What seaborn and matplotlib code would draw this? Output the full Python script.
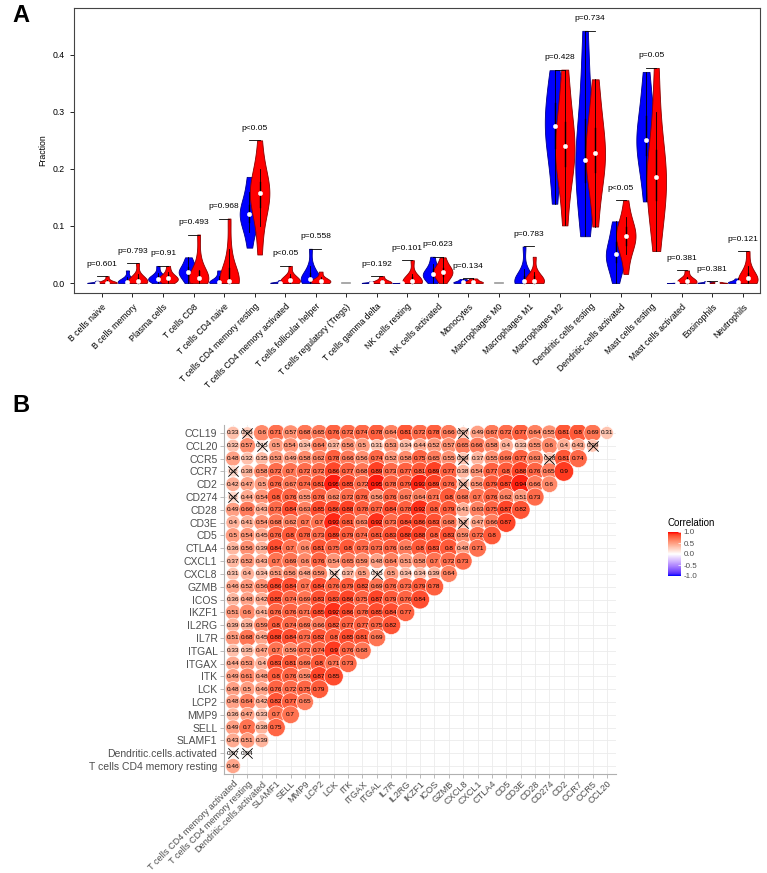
import numpy as np
import pandas as pd
import matplotlib
matplotlib.use("Agg")
import matplotlib.pyplot as plt
import seaborn as sns
from matplotlib.colors import LinearSegmentedColormap, Normalize
from matplotlib.cm import ScalarMappable

# ---------------- panel A data ----------------
cells = ["B cells naive", "B cells memory", "Plasma cells", "T cells CD8", "T cells CD4 naive",
         "T cells CD4 memory resting", "T cells CD4 memory activated", "T cells follicular helper",
         "T cells regulatory (Tregs)", "T cells gamma delta", "NK cells resting", "NK cells activated",
         "Monocytes", "Macrophages M0", "Macrophages M1", "Macrophages M2", "Dendritic cells resting",
         "Dendritic cells activated", "Mast cells resting", "Mast cells activated", "Eosinophils",
         "Neutrophils"]

normal_vals = [
    [0, 0, 0, 0, 0, 0, 0.001, 0.002, 0.004],
    [0, 0, 0, 0.001, 0.002, 0.004, 0.006, 0.01, 0.022],
    [0, 0.003, 0.005, 0.006, 0.007, 0.008, 0.01, 0.012, 0.018, 0.03],
    [0, 0.008, 0.013, 0.017, 0.019, 0.021, 0.024, 0.03, 0.037, 0.045],
    [0, 0, 0, 0.001, 0.002, 0.003, 0.006, 0.012, 0.022],
    [0.062, 0.09, 0.105, 0.115, 0.12, 0.122, 0.13, 0.14, 0.16, 0.186],
    [0, 0, 0, 0, 0, 0.001, 0.002, 0.005],
    [0, 0.002, 0.004, 0.005, 0.006, 0.008, 0.012, 0.02, 0.03, 0.06],
    [0, 0, 0, 0, 0, 0],
    [0, 0, 0, 0, 0.001, 0.003],
    [0, 0, 0, 0, 0.0005],
    [0, 0.006, 0.01, 0.013, 0.015, 0.016, 0.02, 0.025, 0.033, 0.046],
    [0, 0, 0.001, 0.002, 0.004, 0.007],
    [0, 0, 0, 0, 0, 0],
    [0, 0, 0, 0.001, 0.003, 0.006, 0.012, 0.025, 0.064],
    [0.139, 0.2, 0.23, 0.255, 0.27, 0.28, 0.3, 0.32, 0.35, 0.373],
    [0.082, 0.12, 0.17, 0.2, 0.21, 0.22, 0.25, 0.3, 0.36, 0.442],
    [0, 0.02, 0.035, 0.042, 0.048, 0.052, 0.06, 0.075, 0.09, 0.108],
    [0.143, 0.19, 0.22, 0.24, 0.248, 0.252, 0.27, 0.3, 0.33, 0.37],
    [0, 0, 0, 0.0005],
    [0, 0, 0, 0.001, 0.003],
    [0, 0, 0.001, 0.002, 0.004, 0.008],
]
tumor_vals = [
    [0, 0, 0, 0, 0, 0.001, 0.003, 0.006, 0.012],
    [0, 0, 0, 0.002, 0.004, 0.006, 0.009, 0.015, 0.035],
    [0, 0.003, 0.005, 0.006, 0.007, 0.009, 0.011, 0.014, 0.02, 0.03],
    [0, 0.002, 0.004, 0.007, 0.009, 0.01, 0.015, 0.022, 0.045, 0.085],
    [0, 0, 0, 0.001, 0.003, 0.005, 0.012, 0.03, 0.06, 0.113],
    [0.05, 0.1, 0.13, 0.145, 0.155, 0.16, 0.165, 0.18, 0.2, 0.25],
    [0, 0, 0.001, 0.003, 0.005, 0.007, 0.01, 0.015, 0.03],
    [0, 0, 0.002, 0.003, 0.004, 0.006, 0.01, 0.02],
    [0, 0, 0, 0, 0, 0],
    [0, 0, 0, 0.001, 0.003, 0.006, 0.012],
    [0, 0, 0, 0.002, 0.004, 0.008, 0.015, 0.04],
    [0, 0.008, 0.012, 0.016, 0.019, 0.021, 0.024, 0.028, 0.035, 0.045],
    [0, 0, 0.001, 0.002, 0.005, 0.008],
    [0, 0, 0, 0, 0, 0],
    [0, 0, 0, 0.002, 0.004, 0.007, 0.012, 0.02, 0.046],
    [0.101, 0.17, 0.2, 0.22, 0.235, 0.245, 0.26, 0.29, 0.33, 0.374],
    [0.099, 0.16, 0.19, 0.21, 0.225, 0.23, 0.25, 0.28, 0.31, 0.357],
    [0.016, 0.05, 0.065, 0.075, 0.08, 0.085, 0.09, 0.1, 0.115, 0.145],
    [0.056, 0.11, 0.14, 0.165, 0.18, 0.19, 0.21, 0.24, 0.3, 0.377],
    [0, 0, 0.001, 0.003, 0.006, 0.01, 0.022],
    [0, 0, 0, 0.001, 0.002],
    [0, 0, 0.002, 0.005, 0.008, 0.012, 0.018, 0.03, 0.056],
]
pvals = ["p=0.601", "p=0.793", "p=0.91", "p=0.493", "p=0.968", "p<0.05", "p<0.05", "p=0.558", "",
         "p=0.192", "p=0.101", "p=0.623", "p=0.134", "", "p=0.783", "p=0.428", "p=0.734", "p<0.05",
         "p=0.05", "p=0.381", "p=0.381", "p=0.121"]

# ---------------- panel B data ----------------
genes = ["T cells CD4 memory activated", "T cells CD4 memory resting", "Dendritic.cells.activated",
         "SLAMF1", "SELL", "MMP9", "LCP2", "LCK", "ITK", "ITGAX", "ITGAL", "IL7R", "IL2RG", "IKZF1",
         "ICOS", "GZMB", "CXCL8", "CXCL1", "CTLA4", "CD5", "CD3E", "CD28", "CD274", "CD2", "CCR7",
         "CCR5", "CCL20", "CCL19"]

CCL19 = [0.33, 0.26, 0.6, 0.71, 0.57, 0.68, 0.65, 0.76, 0.72, 0.74, 0.78, 0.64, 0.81, 0.72, 0.78, 0.66,
         0.27, 0.49, 0.67, 0.72, 0.77, 0.64, 0.55, 0.81, 0.8, 0.69, 0.31]
CCL20 = [0.32, 0.57, 0.15, 0.5, 0.54, 0.34, 0.64, 0.37, 0.56, 0.5, 0.31, 0.53, 0.34, 0.44, 0.52, 0.57,
         0.65, 0.66, 0.58, 0.4, 0.33, 0.55, 0.6, 0.4, 0.43, 0.29]
CCR5 = [0.48, 0.32, 0.35, 0.53, 0.49, 0.58, 0.62, 0.78, 0.66, 0.56, 0.74, 0.52, 0.58, 0.75, 0.65, 0.55,
        0.29, 0.37, 0.55, 0.69, 0.77, 0.63, 0.28, 0.81, 0.74]
CCR7 = [0.2, 0.38, 0.58, 0.72, 0.7, 0.72, 0.72, 0.86, 0.77, 0.68, 0.89, 0.73, 0.77, 0.81, 0.89, 0.77,
        0.38, 0.54, 0.77, 0.8, 0.88, 0.76, 0.65, 0.9]
CD2 = [0.42, 0.47, 0.5, 0.76, 0.67, 0.74, 0.81, 0.95, 0.85, 0.72, 0.95, 0.78, 0.79, 0.93, 0.89, 0.76,
       0.3, 0.56, 0.79, 0.87, 0.94, 0.66, 0.6]
CD274 = [0.2, 0.44, 0.54, 0.8, 0.76, 0.55, 0.76, 0.62, 0.72, 0.76, 0.56, 0.76, 0.67, 0.64, 0.71, 0.8,
         0.68, 0.7, 0.76, 0.62, 0.51, 0.73]
CD28 = [0.49, 0.66, 0.43, 0.73, 0.84, 0.63, 0.85, 0.86, 0.88, 0.78, 0.77, 0.84, 0.78, 0.92, 0.8, 0.79,
        0.41, 0.63, 0.75, 0.87, 0.82]
CD3E = [0.4, 0.41, 0.54, 0.68, 0.62, 0.7, 0.7, 0.93, 0.81, 0.63, 0.92, 0.73, 0.84, 0.86, 0.83, 0.68,
        0.3, 0.47, 0.66, 0.87]
CD5 = [0.5, 0.54, 0.45, 0.76, 0.8, 0.78, 0.73, 0.89, 0.79, 0.74, 0.81, 0.83, 0.88, 0.88, 0.8, 0.83,
       0.59, 0.72, 0.8]
CTLA4 = [0.36, 0.56, 0.39, 0.84, 0.7, 0.6, 0.81, 0.75, 0.8, 0.73, 0.73, 0.76, 0.65, 0.8, 0.83, 0.8,
         0.48, 0.71]
CXCL1 = [0.37, 0.52, 0.43, 0.7, 0.69, 0.6, 0.76, 0.54, 0.65, 0.59, 0.48, 0.64, 0.51, 0.58, 0.7, 0.72,
         0.73]
CXCL8 = [0.31, 0.4, 0.34, 0.51, 0.56, 0.48, 0.59, 0.2, 0.37, 0.5, 0.15, 0.5, 0.34, 0.34, 0.39, 0.64]
GZMB = [0.46, 0.52, 0.56, 0.86, 0.84, 0.7, 0.84, 0.76, 0.79, 0.82, 0.69, 0.76, 0.73, 0.79, 0.78]
ICOS = [0.36, 0.48, 0.42, 0.85, 0.74, 0.69, 0.83, 0.83, 0.86, 0.75, 0.87, 0.79, 0.76, 0.84]
IKZF1 = [0.51, 0.6, 0.41, 0.76, 0.76, 0.71, 0.85, 0.92, 0.86, 0.78, 0.85, 0.84, 0.77]
IL2RG = [0.39, 0.39, 0.59, 0.8, 0.74, 0.69, 0.66, 0.82, 0.77, 0.77, 0.75, 0.82]
IL7R = [0.51, 0.68, 0.45, 0.88, 0.84, 0.73, 0.82, 0.8, 0.85, 0.81, 0.69]
ITGAL = [0.33, 0.35, 0.47, 0.7, 0.59, 0.72, 0.74, 0.9, 0.76, 0.68]
ITGAX = [0.44, 0.53, 0.4, 0.83, 0.81, 0.69, 0.8, 0.71, 0.73]
ITK = [0.49, 0.61, 0.48, 0.8, 0.76, 0.59, 0.87, 0.85]
LCK = [0.48, 0.5, 0.46, 0.76, 0.72, 0.75, 0.79]
LCP2 = [0.48, 0.64, 0.42, 0.82, 0.77, 0.65]
MMP9 = [0.36, 0.47, 0.33, 0.7, 0.7]
SELL = [0.49, 0.7, 0.38, 0.75]
SLAMF1 = [0.43, 0.51, 0.39]
DC_activated = [0.07, 0.04]
CD4_mem_resting = [0.46]

# non-significant cells (row gene, column gene), drawn with a cross
insig = [("CCL19", "T cells CD4 memory resting"), ("CCL19", "CXCL8"),
         ("CCL20", "Dendritic.cells.activated"), ("CCL20", "CCR5"),
         ("CCR5", "CXCL8"), ("CCR5", "CD274"),
         ("CCR7", "T cells CD4 memory activated"), ("CD2", "CXCL8"),
         ("CD274", "T cells CD4 memory activated"), ("CD3E", "CXCL8"),
         ("CXCL8", "LCK"), ("CXCL8", "ITGAL"),
         ("Dendritic.cells.activated", "T cells CD4 memory activated"),
         ("Dendritic.cells.activated", "T cells CD4 memory resting")]

row_values = [CCL19, CCL20, CCR5, CCR7, CD2, CD274, CD28, CD3E, CD5, CTLA4, CXCL1, CXCL8, GZMB, ICOS,
              IKZF1, IL2RG, IL7R, ITGAL, ITGAX, ITK, LCK, LCP2, MMP9, SELL, SLAMF1, DC_activated,
              CD4_mem_resting]

# ---------------- style ----------------
plt.rcParams['font.family'] = ['Liberation Sans', 'DejaVu Sans']

W, H = 767, 873
fig = plt.figure(figsize=(W / 100, H / 100), dpi=100)


def px_axes(l, t, r, b):
    return fig.add_axes([l / W, 1 - b / H, (r - l) / W, (b - t) / H])


# ---------------- panel A ----------------
axA = px_axes(74, 8, 760, 293)

rows = []
for i, c in enumerate(cells):
    if max(normal_vals[i] + tumor_vals[i]) == 0:
        continue
    for v in normal_vals[i]:
        rows.append({"pos": 3 * i + 1, "group": "Normal", "value": v})
    for v in tumor_vals[i]:
        rows.append({"pos": 3 * i + 2, "group": "Tumor", "value": v})
dfA = pd.DataFrame(rows)

inner = dict(box_width=1.0, whis_width=0.6, marker="o", markersize=3.0,
             markeredgewidth=0.4, markeredgecolor="white", markerfacecolor="white")
for grp, fc, ec in [("Normal", "#0000FF", "#00008B"), ("Tumor", "#FF0000", "#8B0000")]:
    n0 = len(axA.collections)
    sns.violinplot(data=dfA[dfA.group == grp], x="pos", y="value", native_scale=True,
                   color=fc, saturation=1, density_norm="width", cut=0, width=0.64,
                   inner="box", inner_kws=inner, linewidth=0.6, linecolor="black", ax=axA)
    for coll in axA.collections[n0:]:
        coll.set_edgecolor(ec)
        coll.set_facecolor(fc)

# all-zero cell types: a flat grey mark at the category centre
for i, c in enumerate(cells):
    vals = normal_vals[i] + tumor_vals[i]
    if max(vals) == 0:
        axA.plot([3 * i + 1.1, 3 * i + 1.9], [min(vals), max(vals)], color="#9A9A9A", lw=1.2)

for i, c in enumerate(cells):
    if pvals[i] == "":
        continue
    ymax = max(normal_vals[i] + tumor_vals[i])
    axA.plot([3 * i + 1, 3 * i + 2], [ymax, ymax], color="black", lw=0.6)
    axA.text(3 * i + 1.5, ymax + 0.021, pvals[i], ha="center", va="center", fontsize=6)

axA.set_xlim(-1.25, 66.2)
axA.set_ylim(-0.0175, 0.482)
axA.set_xticks([3 * i + 1.5 for i in range(len(cells))])
axA.set_xticklabels(cells, rotation=45, ha="right", rotation_mode="anchor", fontsize=6.2)
axA.set_yticks([0, 0.1, 0.2, 0.3, 0.4])
axA.set_yticklabels(["0.0", "0.1", "0.2", "0.3", "0.4"], fontsize=6.3)
axA.set_xlabel("")
axA.set_ylabel("Fraction", fontsize=6.3)
axA.tick_params(length=3, width=0.6)
for s in axA.spines.values():
    s.set_linewidth(0.8)
    s.set_color("#444444")

fig.text(12 / W, 1 - 16 / H, "A", fontsize=17, fontweight="bold", va="center")
fig.text(12 / W, 1 - 405 / H, "B", fontsize=17, fontweight="bold", va="center")


# ---------------- panel B ----------------
def lab2rgb(L, a, b):
    fy = (L + 16) / 116
    fx = fy + a / 500
    fz = fy - b / 200

    def finv(t):
        return t ** 3 if t > 6 / 29 else 3 * (6 / 29) ** 2 * (t - 4 / 29)
    X, Y, Z = 0.95047 * finv(fx), finv(fy), 1.08883 * finv(fz)
    rgb = [3.2406 * X - 1.5372 * Y - 0.4986 * Z,
           -0.9689 * X + 1.8758 * Y + 0.0415 * Z,
           0.0557 * X - 0.2040 * Y + 1.0570 * Z]
    out = []
    for c in rgb:
        c = 12.92 * c if c <= 0.0031308 else 1.055 * max(c, 0) ** (1 / 2.4) - 0.055
        out.append(min(max(c, 0), 1))
    return out


lab_blue, lab_white, lab_red = (32.30, 79.19, -107.86), (100, 0, 0), (53.24, 80.09, 67.20)
stops = []
for t in np.linspace(0, 1, 11):
    stops.append((t / 2, lab2rgb(*[lb + (lw - lb) * t for lb, lw in zip(lab_blue, lab_white)])))
for t in np.linspace(0, 1, 11)[1:]:
    stops.append((0.5 + t / 2, lab2rgb(*[lw + (lr - lw) * t for lw, lr in zip(lab_white, lab_red)])))
cmap = LinearSegmentedColormap.from_list("gg2", stops)

row_genes = genes[::-1][:-1]
recs = []
for r, (g, vals) in enumerate(zip(row_genes, row_values)):
    for c, v in enumerate(vals):
        recs.append({"x": c, "y": r, "row": g, "col": genes[c], "r": v, "absr": abs(v)})
dfB = pd.DataFrame(recs)

axB = px_axes(224.4, 425.3, 615.6, 773.7)
axB.set_xlim(-0.6, 26.6)
axB.set_ylim(26.6, -0.6)
axB.set_axisbelow(True)
axB.grid(True, color="#EBEBEB", lw=0.6)

sns.scatterplot(data=dfB, x="x", y="y", hue="r", hue_norm=(-1, 1), palette=cmap,
                size="absr", sizes=(30, 216), size_norm=(0, 1), edgecolor="white",
                linewidth=0.4, legend=False, ax=axB, zorder=2)

for _, rec in dfB.iterrows():
    lab = f"{rec['r']:.2f}".rstrip("0").rstrip(".")
    axB.text(rec["x"], rec["y"], lab, ha="center", va="center", fontsize=4.6, zorder=4)

ins = dfB.merge(pd.DataFrame(insig, columns=["row", "col"]), on=["row", "col"])
axB.scatter(ins["x"], ins["y"], marker="x", s=55, color="black", lw=0.6, zorder=5)

axB.set_xticks(range(27))
axB.set_xticklabels(genes[:27], rotation=45, ha="right", rotation_mode="anchor",
                    fontsize=6.6, color="#4D4D4D")
axB.set_yticks(range(27))
axB.set_yticklabels(row_genes, fontsize=7.5, color="#4D4D4D")
axB.set_xlabel("")
axB.set_ylabel("")
axB.tick_params(axis="x", length=3, width=0.6, color="#B0B0B0", pad=1)
axB.tick_params(axis="y", length=3, width=0.6, color="#B0B0B0", pad=2)
for k in ["top", "right"]:
    axB.spines[k].set_visible(False)
for k in ["left", "bottom"]:
    axB.spines[k].set_color("#B0B0B0")
    axB.spines[k].set_linewidth(0.8)

cax = px_axes(668, 532, 681, 576)
cb = fig.colorbar(ScalarMappable(norm=Normalize(-1, 1), cmap=cmap), cax=cax,
                  ticks=[-1, -0.5, 0, 0.5, 1])
cb.ax.set_yticklabels(["-1.0", "-0.5", "0.0", "0.5", "1.0"], fontsize=5.8, color="#4D4D4D")
cb.outline.set_visible(False)
cb.ax.tick_params(length=2.5, width=0.5, color="white", direction="in", pad=2)
fig.text(668 / W, 1 - 523 / H, "Correlation", fontsize=7, va="center")

fig.savefig("out.png", dpi=100)
